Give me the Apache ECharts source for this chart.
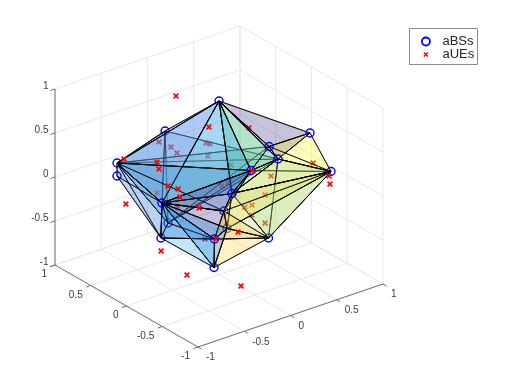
<!DOCTYPE html>
<html><head><meta charset="utf-8">
<style>html,body{margin:0;padding:0;background:#fff}#c{width:519px;height:389px}</style>
<script src="https://cdn.jsdelivr.net/npm/echarts@6/dist/echarts.min.js"></script>
</head><body><div id="c"></div>
<script>
// ---- data (3-D positions in axis units) ----
const axisTicks = [-1, -0.5, 0, 0.5, 1];
const tickLabels = ['-1', '-0.5', '0', '0.5', '1'];

//            A      B      C      D      E      F      G      H      I      J      K      L      M      N      O      P      Q      R
const bsX = [0.179,-0.230,-0.726,-0.776,0.938,0.937,0.292,0.517,0.302,0.213,0.351,0.078,-0.374,-0.274,-0.027,-0.055,-0.153,0.056];
const bsY = [0.231,0.457,0.487,0.423,-0.059,-0.354,-0.322,-0.156,-0.057,0.094,-0.238,-0.011,0.314,0.457,0.028,-0.002,0.515,0.003];
const bsZ = [0.8,0.5,0.3,0.2,0.3,0,0.5,0.2,0.1,-0.2,-0.6,-0.5,-0.2,-0.7,-0.6,-0.9,-0.6,-0.3];
// base stations that sit in front of the translucent mesh
const bsFront = [4,5,6,7,8,9,12,14];

const ueFrontX = [-0.158,0.011,-0.339,-0.304,-0.236,-0.203,-0.181,-0.078,0.303,0.111,-0.016,-0.631,-0.630,-0.323,-0.327,0.013,0.870,0.887];
const ueFrontY = [0.397,0.155,0.429,0.446,0.408,0.310,0.312,0.179,-0.069,-0.122,0.021,0.512,0.487,0.392,0.025,-0.291,-0.412,-0.405];
const ueFrontZ = [0.9,0.6,0.2,0.1,-0.1,-0.1,-0.2,-0.3,0.1,-0.5,-0.6,0.3,-0.2,-0.8,-0.9,-1,0,-0.1];

const ueBackX = [-0.297,-0.275,-0.201,0.010,0.025,-0.027,0.127,0.102,0.026,0.270,0.477,0.812,0.420,0.213,0.246,0.199,0.297,-0.091,-0.220,-0.394];
const ueBackY = [0.455,0.316,0.328,0.195,0.159,0.120,-0.003,0.007,-0.008,-0.069,-0.110,-0.265,-0.101,-0.186,-0.045,-0.204,-0.260,0.078,0.289,0.358];
const ueBackZ = [0.4,0.4,0.3,0.4,0.4,0.3,0.2,0,0,0.6,0,0.1,-0.2,-0.2,-0.3,-0.3,-0.4,-0.6,-0.3,-0.1];

// tetrahedra as indices into the bs arrays
const A=0,B=1,C=2,D=3,E=4,F=5,G=6,H=7,I=8,J=9,K=10,L=11,M=12,N=13,O=14,P=15,Q=16,R=17;
const tetra = [
 [B,C,H,Q],[C,G,I,Q],
 [A,B,C,M],[A,C,M,I],[A,M,I,J],[A,I,H,J],[A,G,H,I],[A,E,G,H],[E,F,G,H],[F,H,I,J],
 [F,J,K,H],[F,J,K,L],[K,L,P,O],[M,N,O,P],[C,D,M,N],[M,N,Q,O],[M,O,R,L],[C,M,R,I],
 [M,J,R,I],[J,L,R,F],[O,L,R,K],[M,P,O,L]
];
const tetraColor = [
 '#7FC4E0','#8CCBB0',
 '#3F6FE8','#6AA8E8','#30B0E0','#3FC0A0','#7CCB8E','#352A87','#F9FB0E','#F0E62A',
 '#A8DC80','#BBE07A','#FEC832','#20A8E8','#0F5CDD','#0F5CDD','#352A87','#3F8BD6',
 '#352A87','#F0E040','#FEC832','#1481D6'
];

// ---- view projection of the 3-D box onto the page plane ----
const proj = (x,y,z) => [92.5*x-71.5*y, 31.5*x+41*y+88*z];
const bsP = bsX.map((_,i)=>proj(bsX[i],bsY[i],bsZ[i]));

const FONT = '10px "Liberation Sans", Arial, sans-serif';
const gridSegs = [], axisSegs = [], labelRows = [];
axisTicks.forEach((t,i)=>{
  // back wall y=1, back wall x=1, floor
  gridSegs.push([t,1,-1,t,1,1],[1,t,-1,1,t,1],[-1,1,t,1,1,t],[1,-1,t,1,1,t],[t,-1,-1,t,1,-1],[-1,t,-1,1,t,-1]);
  axisSegs.push([t,-1.05,-1,t,-1,-1],[-1.05,t,-1,-1,t,-1],[-1.05,1,t,-1,1,t]);
  labelRows.push([t,-1,-1,8,10.5,'left',tickLabels[i]]);
  labelRows.push([-1,t,-1,-8,9.5,'right',tickLabels[i]]);
  labelRows.push([-1,1,t,-6.5,-2.5,'right',tickLabels[i]]);
});
axisSegs.push([-1,-1,-1,1,-1,-1],[-1,-1,-1,-1,1,-1],[-1,1,-1,-1,1,1]);

const segSeries = (segs,color,z)=>({
  type:'custom', coordinateSystem:'cartesian2d', silent:true, z,
  data:segs.map((_,i)=>i),
  renderItem:(p,api)=>{
    const s=segs[api.value(0)];
    const a=api.coord(proj(s[0],s[1],s[2])), b=api.coord(proj(s[3],s[4],s[5]));
    return {type:'line',shape:{x1:a[0],y1:a[1],x2:b[0],y2:b[1]},style:{stroke:color,lineWidth:1}};
  }
});

const XBODY='M2,0L5,3 8,0 10,2 7,5 10,8 8,10 5,7 2,10 0,8 3,5 0,2Z';
const XPATH='path://'+XBODY;
const XLEGEND='path://M-3,-3L-3,-2.99 -2.99,-3Z M13,13L13,12.99 12.99,13Z '+XBODY;
const circleStyle={color:'transparent',borderColor:'#0000ff',borderWidth:1.4,opacity:1};
const xStyle={color:'#ff0000',opacity:1};

const option={
  animation:false,
  backgroundColor:'#fff',
  grid:{left:0,right:0,top:0,bottom:0},
  xAxis:{type:'value',min:-219,max:300,show:false},
  yAxis:{type:'value',min:-202.5,max:186.5,show:false},
  graphic:[{type:'rect',z:9,silent:true,shape:{x:409.5,y:28.5,width:68,height:36},
            style:{fill:'#fff',stroke:'#8c8c8c',lineWidth:1}}],
  legend:{
    left:421,top:35,orient:'vertical',z:10,
    padding:0,itemGap:0,itemWidth:23,itemHeight:8,
    selectedMode:false,
    textStyle:{fontFamily:'"Liberation Sans", Arial, sans-serif',fontSize:13,color:'#262626'},
    data:[
      {name:'aBSs',icon:'circle',itemStyle:{color:'transparent',borderColor:'#0000ff',borderWidth:1.8,opacity:1}},
      {name:'aUEs',icon:XLEGEND,itemStyle:{color:'#ff0000',borderWidth:0,opacity:1}}
    ]
  },
  series:[
    segSeries(gridSegs,'#e9e9e9',1),
    segSeries(axisSegs,'#6f6f6f',2),
    {type:'custom',coordinateSystem:'cartesian2d',silent:true,z:2,
     data:labelRows.map((_,i)=>i),
     renderItem:(p,api)=>{
       const r=labelRows[api.value(0)];
       const a=api.coord(proj(r[0],r[1],r[2]));
       return {type:'text',style:{x:a[0]+r[3],y:a[1]+r[4],text:r[6],font:FONT,fill:'#404040',
         textAlign:r[5],textVerticalAlign:'middle',align:r[5],verticalAlign:'middle'}};
     }},
    {type:'scatter',name:'aBSs',z:3,silent:true,symbol:'circle',symbolSize:8,itemStyle:circleStyle,
     data:bsP.filter((_,i)=>!bsFront.includes(i))},
    {type:'scatter',name:'aUEs',z:3,silent:true,symbol:XPATH,symbolSize:6,itemStyle:xStyle,
     data:ueBackX.map((_,i)=>proj(ueBackX[i],ueBackY[i],ueBackZ[i]))},
    {type:'custom',coordinateSystem:'cartesian2d',silent:true,z:4,
     data:tetra.map((_,i)=>i),
     renderItem:(p,api)=>{
       const k=api.value(0), t=tetra[k];
       const faces=[[t[0],t[1],t[2]],[t[0],t[1],t[3]],[t[0],t[2],t[3]],[t[1],t[2],t[3]]];
       return {type:'group',children:faces.map(f=>({
         type:'polygon',
         shape:{points:f.map(v=>api.coord(bsP[v]))},
         style:{fill:tetraColor[k],opacity:1,fillOpacity:0.15,stroke:'#000',strokeOpacity:0.8,lineWidth:0.9,lineJoin:'round'}
       }))};
     }},
    {type:'scatter',name:'aBSs',z:5,silent:true,symbol:'circle',symbolSize:8,itemStyle:circleStyle,
     data:bsP.filter((_,i)=>bsFront.includes(i))},
    {type:'scatter',name:'aUEs',z:5,silent:true,symbol:XPATH,symbolSize:6,itemStyle:xStyle,
     data:ueFrontX.map((_,i)=>proj(ueFrontX[i],ueFrontY[i],ueFrontZ[i]))}
  ]
};
echarts.init(document.getElementById('c'),null,{renderer:'canvas'}).setOption(option);
</script></body></html>
